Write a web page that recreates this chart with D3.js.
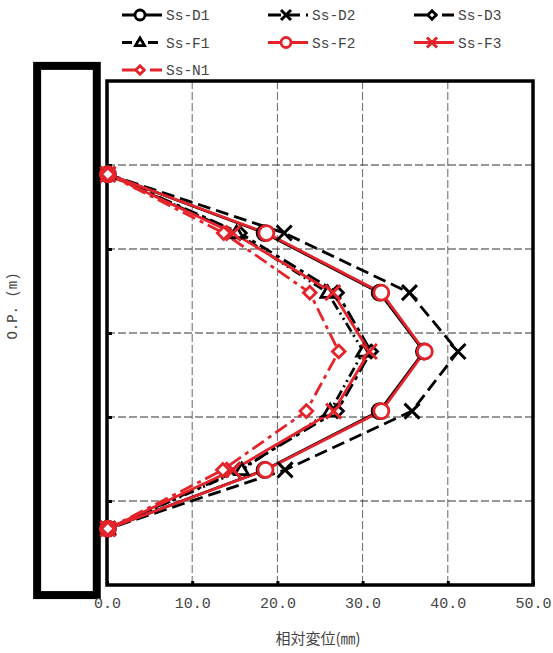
<!DOCTYPE html>
<html>
<head>
<meta charset="utf-8">
<script src="https://cdn.jsdelivr.net/npm/d3@7/dist/d3.min.js"></script>
<style>
  body { margin: 0; background: #fff; }
  text { font-family: "Liberation Mono", "DejaVu Sans Mono", monospace; fill: #444; }
  .cjk { font-family: "Noto Sans CJK JP", sans-serif; }
</style>
</head>
<body>
<div id="chart"></div>
<script>
// depth levels of the measuring points (O.P. axis, drawn downward)
var levels = [1.11, 1.81, 2.52, 3.22, 3.93, 4.63, 5.33];

// relative displacement (mm) per case
var ssD1 = [0.1, 18.5, 32.0, 37.2, 32.0, 18.5, 0.1];
var ssD2 = [0.1, 20.8, 35.5, 41.2, 35.8, 20.9, 0.1];
var ssD3 = [0.1, 15.6, 27.0, 31.0, 27.0, 15.5, 0.1];
var ssF1 = [0.1, 15.2, 25.9, 30.1, 26.2, 15.8, 0.1];
var ssF2 = [0.1, 18.7, 32.2, 37.3, 32.2, 18.6, 0.1];
var ssF3 = [0.1, 14.8, 26.5, 30.8, 26.6, 14.8, 0.1];
var ssN1 = [0.1, 13.7, 23.8, 27.2, 23.4, 13.6, 0.1];

var seriesNames = ['Ss-D1', 'Ss-D2', 'Ss-D3', 'Ss-F1', 'Ss-F2', 'Ss-F3', 'Ss-N1'];
var xTicks = [0, 10, 20, 30, 40, 50];
var yGrid = [1, 2, 3, 4, 5];

// pile outline in data units (left of the axis)
var pileX = [-8.2, -1.2];
var pileY = [-0.18, 6.12];

(function(d3) {
  'use strict';
  var width = 553, height = 653;
  var red = '#e5232b';

  var series = [
    { name: seriesNames[0], values: ssD1, color: '#000', dash: null,            marker: 'circle' },
    { name: seriesNames[1], values: ssD2, color: '#000', dash: '13,6',          marker: 'x' },
    { name: seriesNames[2], values: ssD3, color: '#000', dash: '14,5,4,5',      marker: 'diamond' },
    { name: seriesNames[3], values: ssF1, color: '#000', dash: '10,4,2,4,2,4',  marker: 'triangle' },
    { name: seriesNames[4], values: ssF2, color: red,    dash: null,            marker: 'circle' },
    { name: seriesNames[5], values: ssF3, color: red,    dash: null,            marker: 'x' },
    { name: seriesNames[6], values: ssN1, color: red,    dash: '14,5,4,5',      marker: 'diamond' }
  ];

  var x = d3.scaleLinear().domain([0, 50]).range([107, 533]);
  var y = d3.scaleLinear().domain([0, 6]).range([81, 585]);

  var svg = d3.select('#chart').append('svg')
    .attr('width', width).attr('height', height);

  // pile
  svg.append('rect')
    .attr('x', x(pileX[0])).attr('y', y(pileY[0]))
    .attr('width', x(pileX[1]) - x(pileX[0]))
    .attr('height', y(pileY[1]) - y(pileY[0]))
    .attr('fill', 'none').attr('stroke', '#000').attr('stroke-width', 8);

  // grid
  svg.append('g').selectAll('line.vg')
    .data(xTicks.slice(1, -1)).enter().append('line')
    .attr('x1', function(d) { return x(d); }).attr('x2', function(d) { return x(d); })
    .attr('y1', y(0)).attr('y2', y(6))
    .attr('stroke', '#666').attr('stroke-width', 1).attr('stroke-dasharray', '8,3');
  svg.append('g').selectAll('line.hg')
    .data(yGrid).enter().append('line')
    .attr('x1', x(0)).attr('x2', x(50))
    .attr('y1', function(d) { return y(d); }).attr('y2', function(d) { return y(d); })
    .attr('stroke', '#333').attr('stroke-width', 1).attr('stroke-dasharray', '8,3');

  // axes (ticks inward)
  var xAxis = svg.append('g').attr('transform', 'translate(0,' + y(6) + ')')
    .call(d3.axisBottom(x).tickValues(xTicks).tickSize(-4).tickPadding(12)
      .tickFormat(function(d) { return d3.format('.1f')(d); }));
  xAxis.select('.domain').remove();
  xAxis.selectAll('line').attr('stroke', '#000').attr('stroke-width', 3);
  xAxis.selectAll('text').style('font-size', '15px')
    .style('font-family', '"Liberation Mono", monospace').attr('fill', '#444');

  var yAxis = svg.append('g').attr('transform', 'translate(' + x(0) + ',0)')
    .call(d3.axisLeft(y).tickValues(yGrid).tickSize(-5).tickFormat(''));
  yAxis.select('.domain').remove();
  yAxis.selectAll('line').attr('stroke', '#000').attr('stroke-width', 3);

  // plot frame
  svg.append('rect')
    .attr('x', x(0)).attr('y', y(0))
    .attr('width', x(50) - x(0)).attr('height', y(6) - y(0))
    .attr('fill', 'none').attr('stroke', '#000').attr('stroke-width', 3.5);

  // marker drawing
  function drawMarker(g, type, color, px, py, s) {
    if (type === 'circle') {
      g.append('circle').attr('cx', px).attr('cy', py).attr('r', s)
        .attr('fill', '#fff').attr('stroke', color).attr('stroke-width', 2.8);
    } else if (type === 'x') {
      g.append('path')
        .attr('d', 'M' + (px - s) + ',' + (py - s) + 'L' + (px + s) + ',' + (py + s) +
                   'M' + (px - s) + ',' + (py + s) + 'L' + (px + s) + ',' + (py - s))
        .attr('stroke', color).attr('stroke-width', 3).attr('fill', 'none');
    } else if (type === 'diamond') {
      var d = s * 0.85;
      g.append('path')
        .attr('d', 'M' + px + ',' + (py - d) + 'L' + (px + d) + ',' + py +
                   'L' + px + ',' + (py + d) + 'L' + (px - d) + ',' + py + 'Z')
        .attr('fill', '#fff').attr('stroke', color).attr('stroke-width', 2.8);
    } else if (type === 'triangle') {
      var t = s * 0.9;
      g.append('path')
        .attr('d', 'M' + px + ',' + (py - t) + 'L' + (px + t) + ',' + (py + t * 0.7) +
                   'L' + (px - t) + ',' + (py + t * 0.7) + 'Z')
        .attr('fill', '#fff').attr('stroke', color).attr('stroke-width', 2.8);
    }
  }

  var line = d3.line()
    .x(function(d) { return x(d.v); })
    .y(function(d) { return y(d.l); });

  var plot = svg.append('g');
  series.forEach(function(s) {
    var pts = s.values.map(function(v, i) { return { v: v, l: levels[i] }; });
    plot.append('path').datum(pts)
      .attr('d', line)
      .attr('fill', 'none').attr('stroke', s.color).attr('stroke-width', 2.8)
      .attr('stroke-dasharray', s.dash);
  });
  series.forEach(function(s) {
    var g = plot.append('g');
    s.values.forEach(function(v, i) {
      drawMarker(g, s.marker, s.color, x(v), y(levels[i]), 7.5);
    });
  });

  // legend
  var legend = svg.append('g');
  series.forEach(function(s, i) {
    var col = i % 3, row = Math.floor(i / 3);
    var lx = 122 + col * 146, ly = 15 + row * 27.5;
    var g = legend.append('g');
    g.append('line').attr('x1', lx).attr('x2', lx + 40)
      .attr('y1', ly).attr('y2', ly)
      .attr('stroke', s.color).attr('stroke-width', 3)
      .attr('stroke-dasharray', s.dash);
    drawMarker(g, s.marker, s.color, lx + 18, ly, 5);
    g.append('text').attr('x', lx + 44).attr('y', ly + 5)
      .style('font-size', '14.5px').text(s.name);
  });

  // axis titles
  svg.append('text').attr('class', 'cjk')
    .attr('x', 318).attr('y', 644).attr('text-anchor', 'middle')
    .style('font-size', '15px').text('相対変位(㎜)');
  svg.append('text')
    .attr('transform', 'translate(17,306) rotate(-90)')
    .attr('text-anchor', 'middle')
    .style('font-size', '14px').text('O.P. (m)');

})(window.d3);
</script>
</body>
</html>
